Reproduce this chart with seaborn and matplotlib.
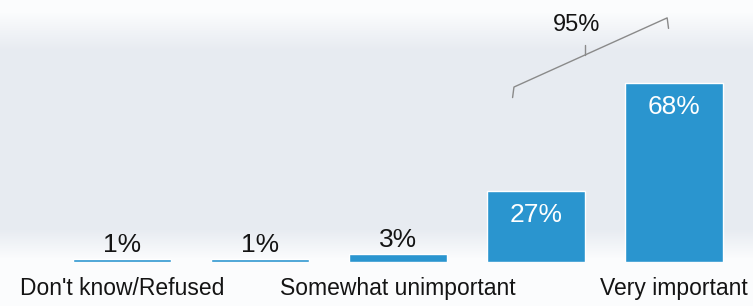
import seaborn as sns
import matplotlib.pyplot as plt
import numpy as np
import pandas as pd

# answer categories and shares (%)
categories = ["Don't know/Refused", "Very unimportant", "Somewhat unimportant",
              "Somewhat important", "Very important"]
shares = [1, 1, 3, 27, 68]
# only every other category is labelled on the axis
tick_labels = ["Don't know/Refused", "", "Somewhat unimportant", "", "Very important"]
combined_label = "95%"

bar_color = "#2a95cf"

sns.set_theme(style="white")
plt.rcParams['font.family'] = ['Liberation Sans', 'DejaVu Sans']

fig = plt.figure(figsize=(7.53, 3.06), dpi=100)

# soft grey-blue background like the scanned slide (white at top and bottom)
bg = fig.add_axes([0, 0, 1, 1], zorder=0)
rows = np.arange(306)
grad = np.interp(rows, [0, 12, 50, 228, 258, 306], [0, 0, 1, 1, 0, 0])
bg.imshow(grad.reshape(-1, 1), aspect='auto',
          cmap=sns.blend_palette(["#fbfcfd", "#e7ebf1"], as_cmap=True),
          extent=[0, 1, 0, 1], origin='upper', vmin=0, vmax=1)
bg.axis('off')

ax = fig.add_axes([0, 0.144, 1, 0.856], zorder=1)
ax.patch.set_alpha(0)

df = pd.DataFrame({"category": categories, "share": shares})
sns.barplot(data=df, x="category", y="share", color=bar_color, saturation=1,
            width=0.71, ax=ax)

ax.set_xlim(-0.884, 4.572)
ax.set_ylim(0, 99.6)
ax.set_xticks(range(len(categories)))
ax.set_xticklabels(tick_labels, fontsize=16.5, color="#141414")
ax.tick_params(axis='x', length=0, pad=11)
ax.set_yticks([])
ax.set_xlabel("")
ax.set_ylabel("")
for s in ax.spines.values():
    s.set_visible(False)

# value labels: above the short bars, inside the tall ones
for i, v in enumerate(shares):
    if v < 10:
        ax.annotate(f"{v}%", (i, v), xytext=(0, 1.5), textcoords='offset points',
                    ha='center', va='bottom', fontsize=19, color="#141414")
    else:
        ax.annotate(f"{v}%", (i, v), xytext=(0, -17.5), textcoords='offset points',
                    ha='center', va='center', fontsize=19, color="white")

# tilted bracket grouping the two "important" answers
x0, x1 = 3 - 0.17, 4 - 0.05
y0, y1 = 66.5, 92.8
bx = [x0, x0 + 0.01, x1, x1 + 0.01]
by = [y0 - 4, y0, y1, y1 - 4]
ax.plot(bx, by, color="#8a8a8a", lw=1, solid_joinstyle='round')
xm = x0 + (x1 - x0) * 0.47
ym = y0 + (y1 - y0) * 0.47
ax.plot([xm, xm], [ym, ym + 3.5], color="#8a8a8a", lw=1)
ax.text(xm - 0.06, 90, combined_label, ha='center', va='center', fontsize=17, color="#141414")

fig.savefig("out.png", dpi=100)
